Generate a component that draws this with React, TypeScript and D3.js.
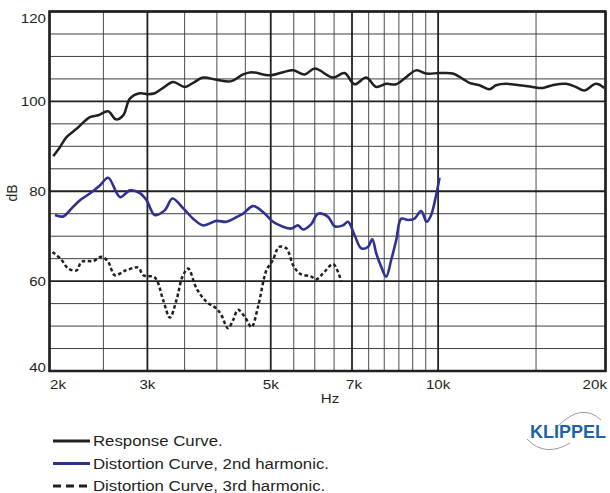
import React from 'react';
import * as d3 from 'd3';

// response curve (black)
const respFreq = [2031, 2088, 2148, 2238, 2364, 2447, 2550, 2633, 2714, 2790, 2908, 3009, 3093, 3202, 3337, 3503, 3625, 3778, 3993, 4249, 4459, 4616, 4978, 5261, 5483, 5754, 5997, 6469, 6788, 7075, 7425, 7738, 8064, 8406, 8762, 9130, 9518, 10058, 10627, 11076, 11386, 11867, 12368, 12715, 13251, 13995, 14789, 15412, 16064, 16980, 17696, 18314, 19222, 19894];
const respDb = [87.8, 89.8, 92.1, 93.9, 96.5, 96.9, 97.8, 96.0, 96.9, 100.6, 101.8, 101.6, 101.8, 103.0, 104.3, 103.2, 104.1, 105.3, 104.8, 104.5, 106.0, 106.5, 105.8, 106.5, 106.9, 106.0, 107.3, 105.3, 106.3, 103.8, 105.3, 103.2, 103.9, 103.8, 105.4, 106.9, 106.2, 106.3, 106.2, 105.0, 104.1, 103.6, 102.7, 103.6, 103.9, 103.6, 103.2, 103.0, 103.6, 103.9, 103.2, 102.4, 103.9, 103.0];

// 2nd harmonic (blue)
const h2Freq = [2046, 2118, 2192, 2269, 2364, 2464, 2550, 2678, 2790, 2908, 2990, 3093, 3225, 3328, 3480, 3625, 3778, 3993, 4162, 4365, 4459, 4646, 4842, 5046, 5261, 5446, 5596, 5713, 5914, 6080, 6339, 6516, 6745, 6885, 7075, 7274, 7476, 7612, 7738, 7900, 8064, 8233, 8406, 8582, 8820, 9066, 9320, 9538, 9713, 9916, 10058];
const h2Db = [74.7, 74.4, 76.2, 78.0, 79.5, 81.3, 83.0, 78.7, 80.2, 79.6, 78.0, 74.7, 75.8, 78.4, 76.2, 73.9, 72.4, 73.4, 73.2, 74.4, 75.0, 76.7, 75.4, 73.2, 72.1, 71.7, 72.4, 71.5, 72.7, 75.0, 74.3, 72.2, 72.4, 73.2, 70.2, 67.3, 67.6, 69.3, 66.2, 63.2, 61.0, 64.7, 69.1, 73.9, 73.6, 73.9, 75.6, 73.2, 74.7, 79.1, 83.0];

// 3rd harmonic (dashed)
const h3Freq = [2026, 2103, 2161, 2238, 2284, 2398, 2482, 2550, 2622, 2733, 2888, 2949, 3093, 3202, 3292, 3384, 3469, 3551, 3676, 3831, 3993, 4077, 4189, 4277, 4365, 4488, 4616, 4743, 4911, 5046, 5173, 5333, 5483, 5636, 5914, 6038, 6248, 6469, 6604, 6697];
const h3Db = [66.5, 64.7, 62.8, 62.4, 64.3, 64.5, 65.4, 64.3, 61.3, 62.3, 63.0, 61.3, 60.8, 55.8, 51.9, 55.8, 61.0, 62.8, 58.4, 55.4, 53.9, 52.4, 49.5, 51.3, 53.6, 52.1, 49.8, 54.3, 62.4, 64.7, 67.6, 67.3, 63.6, 61.7, 61.0, 60.4, 62.1, 63.8, 62.1, 59.8];

const majorFreqs = [2000, 3000, 5000, 7000, 10000, 20000];
const freqLabels = ['2k', '3k', '5k', '7k', '10k', '20k'];
const minorFreqs = [2500, 3500, 4000, 4500, 5500, 6000, 6500, 7500, 8000, 8500, 9000, 9500, 15000];
const majorDb = [40, 60, 80, 100, 120];
const minorDb = [45, 50, 55, 65, 70, 75, 85, 90, 95, 105, 110, 115];

const legendLabels = ['Response Curve.', 'Distortion Curve, 2nd harmonic.', 'Distortion Curve, 3rd harmonic.'];

const W = 610;
const H = 493;
const left = 49.5, right = 605.5, top = 11.5, bottom = 371;
const blue = '#2e3192';
const ink = '#231f20';
const font = '"Liberation Sans", Arial, sans-serif';
const sx = 1.12;

function Label({ x, y, anchor = 'start', size = 13.5, children }: any) {
  return (
    <text transform={`translate(${x},${y}) scale(${sx},1)`} textAnchor={anchor}
      fontFamily={font} fontSize={size} fill={ink}>{children}</text>
  );
}

export default function App() {
  const x = d3.scaleLog().domain([2000, 20000]).range([left, right]);
  const y = d3.scaleLinear().domain([40, 120]).range([bottom, top]);

  const line = d3.line<[number, number]>()
    .x(d => x(d[0])).y(d => y(d[1]))
    .curve(d3.curveCatmullRom.alpha(0.5));

  const resp = line(respFreq.map((f, i) => [f, respDb[i]]));
  const h2 = line(h2Freq.map((f, i) => [f, h2Db[i]]));
  const h3 = line(h3Freq.map((f, i) => [f, h3Db[i]]));

  const legendY = [441, 463.5, 486];
  const legendStyles = [
    { stroke: ink, dash: undefined },
    { stroke: blue, dash: undefined },
    { stroke: ink, dash: '8,5' },
  ];

  return (
    <svg width={W} height={H} style={{ position: 'absolute', left: 0, top: 0, background: '#fff' }}>
      {/* minor grid */}
      {minorFreqs.map(f => (
        <line key={'mf' + f} x1={x(f)} x2={x(f)} y1={top} y2={bottom} stroke="#4d4d4f" strokeWidth={1} />
      ))}
      {minorDb.map(v => (
        <line key={'md' + v} x1={left} x2={right} y1={y(v)} y2={y(v)} stroke="#3f3f41" strokeWidth={1} />
      ))}
      {/* major grid */}
      {majorFreqs.map(f => (
        <line key={'Mf' + f} x1={x(f)} x2={x(f)} y1={top} y2={bottom} stroke={ink} strokeWidth={1.8} />
      ))}
      {majorDb.map(v => (
        <line key={'Md' + v} x1={left} x2={right} y1={y(v)} y2={y(v)} stroke={ink} strokeWidth={1.8} />
      ))}

      {/* curves */}
      <path d={h3 || ''} fill="none" stroke={ink} strokeWidth={2.5} strokeDasharray="3.5,2.5" />
      <path d={h2 || ''} fill="none" stroke={blue} strokeWidth={2.6} strokeLinejoin="round" />
      <path d={resp || ''} fill="none" stroke={ink} strokeWidth={2.5} strokeLinejoin="round" />

      <rect x={left} y={top} width={right - left} height={bottom - top} fill="none" stroke={ink} strokeWidth={2.5} />

      {/* y tick labels */}
      {majorDb.map(v => (
        <Label key={'yl' + v} x={46} y={Math.min(371.5, Math.max(23, y(v) + 5))} anchor="end">{v}</Label>
      ))}
      <text transform="translate(17,193) rotate(-90)" textAnchor="middle" fontFamily={font} fontSize={14} fill={ink}>dB</text>

      {/* x tick labels */}
      {majorFreqs.map((f, i) => {
        const anchor = i === 0 ? 'start' : i === majorFreqs.length - 1 ? 'end' : 'middle';
        const px = i === 0 ? 50 : i === majorFreqs.length - 1 ? 607 : x(f) + (f === 7000 ? 2 : 0);
        return <Label key={'xl' + f} x={px} y={388.5} anchor={anchor}>{freqLabels[i]}</Label>;
      })}
      <Label x={330} y={403} anchor="middle">Hz</Label>

      {/* legend */}
      {legendLabels.map((t, i) => (
        <g key={'lg' + i}>
          <line x1={53} x2={90} y1={legendY[i]} y2={legendY[i]} stroke={legendStyles[i].stroke}
            strokeWidth={2.8} strokeDasharray={legendStyles[i].dash} />
          <Label x={93} y={legendY[i] + 5} size={15}>{t}</Label>
        </g>
      ))}

      {/* logo */}
      <path d="M558,426 Q582,402 601,420" fill="none" stroke="#9a9a9a" strokeWidth={1} />
      <path d="M527,439 Q545,458 570,443" fill="none" stroke="#9a9a9a" strokeWidth={1} />
      <text x={530} y={438} fontFamily={font} fontWeight="bold" fontSize={18} fill="#1d62ac">KLIPPEL</text>
    </svg>
  );
}
